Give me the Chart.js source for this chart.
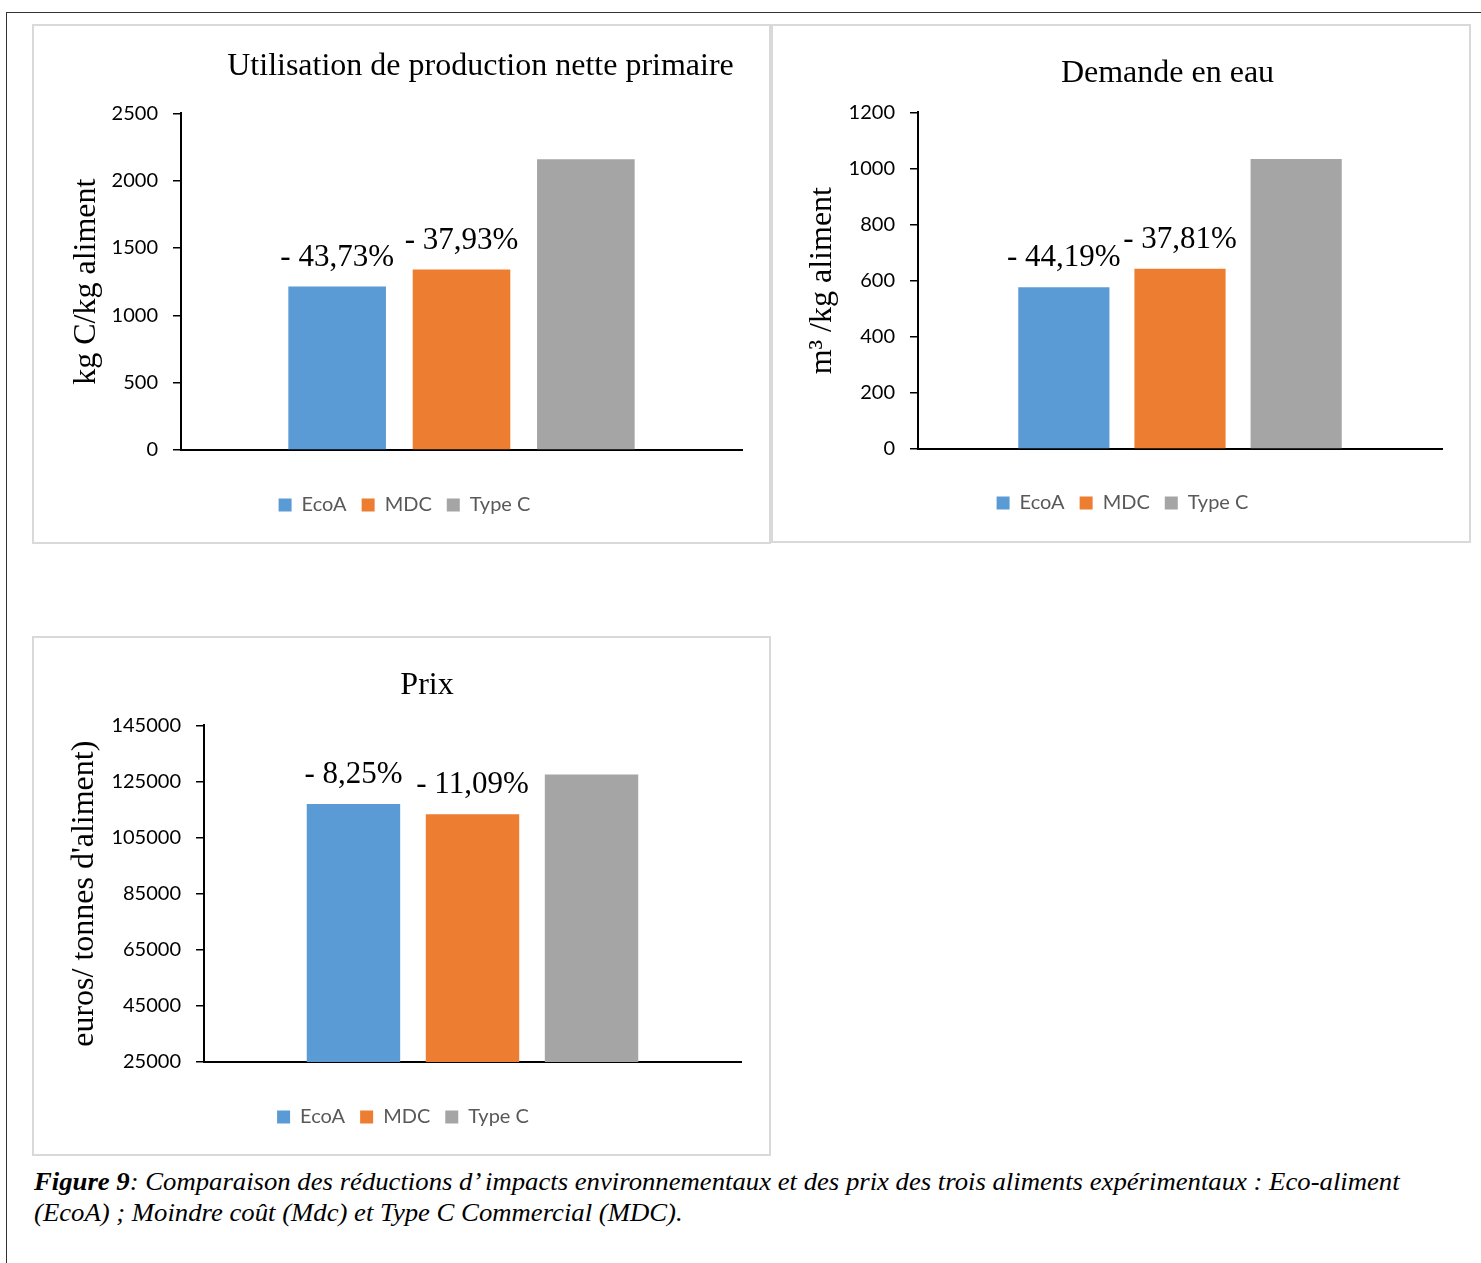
<!DOCTYPE html>
<html lang="fr">
<head>
<meta charset="utf-8">
<title>Figure 9</title>
<script src="https://cdn.jsdelivr.net/npm/chart.js@4.4.1/dist/chart.umd.min.js"></script>
<style>
    html, body { margin: 0; padding: 0; background: #fff; }
    body { width: 1481px; height: 1263px; position: relative; overflow: hidden; }
    .frame { position: absolute; left: 6px; top: 12px; right: -2px; bottom: -2px; border-top: 1px solid #333; border-left: 1px solid #333; }
    .box { position: absolute; box-sizing: border-box; border: 2px solid #d9d9d9; background: #fff; }
    .box canvas { display: block; }
    .caption { position: absolute; left: 34px; top: 1166px; font-family: 'Liberation Serif', serif; font-style: italic; font-size: 26px; line-height: 31px; color: #000; white-space: nowrap; }
    .caption .line { display: inline-block; transform-origin: 0 0; }
</style>
</head>
<body>
<div class="frame"></div>
<div id="panels"></div>
<div class="caption">
    <span class="line"><b>Figure 9</b>: Comparaison des réductions d’ impacts environnementaux et des prix des trois aliments expérimentaux : Eco-aliment</span><br>
    <span class="line">(EcoA) ; Moindre coût (Mdc) et Type C Commercial (MDC).</span>
</div>
<script>
// series shared by the three panels
const seriesNames = ['EcoA', 'MDC', 'Type C'];
const seriesColors = ['#5b9bd5', '#ed7d31', '#a5a5a5'];

// Utilisation de production nette primaire (kg C/kg aliment)
const nppValues = [1215, 1341, 2160];
const nppNotes = ['- 43,73%', '- 37,93%', ''];
const nppTicks = [0, 500, 1000, 1500, 2000, 2500];

// Demande en eau (m3/kg aliment)
const waterValues = [577, 643, 1034];
const waterNotes = ['- 44,19%', '- 37,81%', ''];
const waterTicks = [0, 200, 400, 600, 800, 1000, 1200];

// Prix (euros / tonne d'aliment)
const priceValues = [116980, 113360, 127500];
const priceNotes = ['- 8,25%', '- 11,09%', ''];
const priceTicks = [25000, 45000, 65000, 85000, 105000, 125000, 145000];

const panels = [
    {
        title: 'Utilisation de production nette primaire', yTitle: 'kg C/kg aliment',
        values: nppValues, notes: nppNotes, ticks: nppTicks,
        box: [32, 24, 739, 520], pad: { left: 33, right: 27, bottom: 17 },
        yWidth: 114, xHeight: 30, titlePad: { top: 21, bottom: 28 }, titleDx: 76
    },
    {
        title: 'Demande en eau', yTitle: 'm³ /kg aliment',
        values: waterValues, notes: waterNotes, ticks: waterTicks,
        box: [771, 24, 700, 519], pad: { left: 30, right: 27, bottom: 18 },
        yWidth: 115, xHeight: 29, titlePad: { top: 28, bottom: 20 }, titleDx: 45
    },
    {
        title: 'Prix', yTitle: "euros/ tonnes d'aliment)",
        values: priceValues, notes: priceNotes, ticks: priceTicks,
        box: [32, 636, 739, 520], pad: { left: 31, right: 28, bottom: 17 },
        yWidth: 139, xHeight: 30, titlePad: { top: 28, bottom: 21 }, titleDx: 24
    }
];

// percentage notes above the bars
const barNotes = {
    id: 'barNotes',
    afterDatasetsDraw(chart, args, opts) {
        const ctx = chart.ctx;
        ctx.save();
        ctx.font = '31px "Liberation Serif"';
        ctx.fillStyle = '#000';
        ctx.textAlign = 'center';
        ctx.textBaseline = 'middle';
        chart.data.datasets.forEach((ds, i) => {
            const text = opts.texts[i];
            if (!text) return;
            const bar = chart.getDatasetMeta(i).data[0];
            ctx.fillText(text, bar.x, bar.y - opts.offset);
        });
        ctx.restore();
    }
};

// titles sit a little right of the centre
const titleShift = {
    id: 'titleShift',
    afterLayout(chart, args, opts) {
        const t = chart.titleBlock;
        if (!t || !opts.dx) return;
        t.left += opts.dx;
        t.right += opts.dx;
    }
};

function makePanel(p) {
    const [left, top, w, h] = p.box;
    const wrap = document.createElement('div');
    wrap.className = 'box';
    Object.assign(wrap.style, { left: left + 'px', top: top + 'px', width: w + 'px', height: h + 'px' });
    const canvas = document.createElement('canvas');
    canvas.width = w - 4;
    canvas.height = h - 4;
    wrap.appendChild(canvas);
    document.getElementById('panels').appendChild(wrap);

    const ticks = p.ticks;
    return new Chart(canvas.getContext('2d'), {
        type: 'bar',
        data: {
            labels: [''],
            datasets: seriesNames.map((name, i) => ({
                label: name,
                data: [p.values[i]],
                backgroundColor: seriesColors[i],
                borderWidth: 0,
                categoryPercentage: 0.665,
                barPercentage: 0.785
            }))
        },
        options: {
            responsive: false,
            animation: false,
            events: [],
            layout: { padding: { left: p.pad.left, right: p.pad.right, top: 0, bottom: p.pad.bottom } },
            scales: {
                x: {
                    ticks: { display: false },
                    grid: { display: false },
                    border: { color: '#000', width: 2 },
                    afterFit: s => { s.height = p.xHeight; }
                },
                y: {
                    min: ticks[0],
                    max: ticks[ticks.length - 1],
                    afterBuildTicks: s => { s.ticks = ticks.map(v => ({ value: v })); },
                    ticks: {
                        padding: 15,
                        color: '#000',
                        font: { family: 'Lato', size: 20 },
                        callback: v => String(v)
                    },
                    grid: { drawOnChartArea: false, drawTicks: true, tickLength: 8, color: '#000', lineWidth: 1.5 },
                    border: { color: '#000', width: 2 },
                    title: {
                        display: true,
                        text: p.yTitle,
                        color: '#000',
                        padding: 0,
                        font: { family: 'Liberation Serif', size: 32, lineHeight: 1.2 }
                    },
                    afterFit: s => { s.width = p.yWidth; }
                }
            },
            plugins: {
                title: {
                    display: true,
                    text: p.title,
                    color: '#000',
                    padding: p.titlePad,
                    font: { family: 'Liberation Serif', size: 32, weight: 'normal', lineHeight: 1.2 }
                },
                legend: {
                    position: 'bottom',
                    labels: {
                        boxWidth: 13,
                        boxHeight: 13,
                        padding: 15,
                        color: '#595959',
                        font: { family: 'Lato', size: 20 }
                    }
                },
                tooltip: { enabled: false },
                barNotes: { texts: p.notes, offset: 29 },
                titleShift: { dx: p.titleDx }
            }
        },
        plugins: [barNotes, titleShift]
    });
}

function fitCaption() {
    const lines = document.querySelectorAll('.caption .line');
    const k = 1366 / lines[0].offsetWidth;
    lines.forEach(l => { l.style.transform = `scaleX(${k})`; });
}

panels.forEach(makePanel);
fitCaption();
</script>
</body>
</html>
